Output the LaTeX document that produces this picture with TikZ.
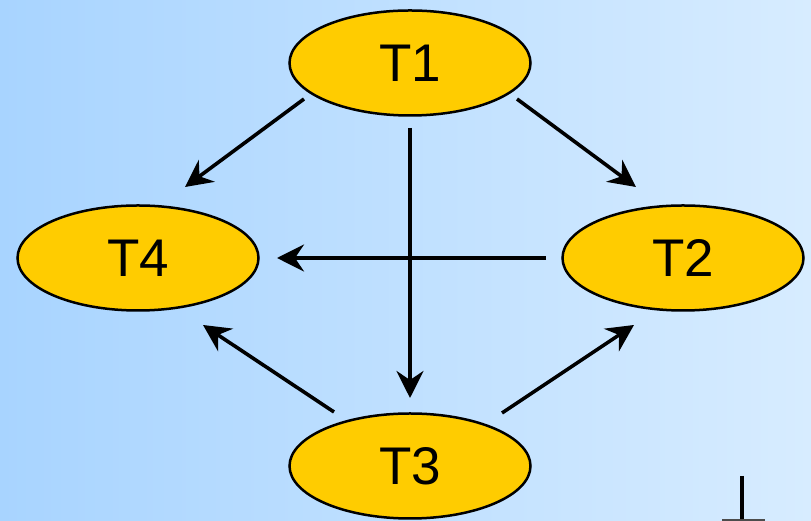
\documentclass[tikz,border=0pt]{standalone}
\usepackage{fontspec}
\setmainfont{Liberation Sans}
\usetikzlibrary{shapes.geometric,arrows.meta}
\definecolor{bgleft}{RGB}{168,212,255}
\definecolor{bgright}{RGB}{215,236,255}
\definecolor{taskfill}{RGB}{255,204,0}
\tikzset{
  task/.style={ellipse, draw=black, line width=2.5pt, fill=taskfill,
    minimum width=241pt, minimum height=105pt, inner sep=0pt,
    font=\fontsize{53pt}{60pt}\selectfont},
  arr/.style={line width=3.6pt, -{Stealth[length=27pt,width=27pt,inset=9pt]}}
}
\begin{document}
\begin{tikzpicture}[x=1pt,y=1pt]
\useasboundingbox (0,0) rectangle (811,521);
\shade[left color=bgleft, right color=bgright] (0,0) rectangle (811,521);
\node[task] (T1) at (410,458) {T1};
\node[task] (T4) at (138,263) {T4};
\node[task] (T2) at (683,263) {T2};
\node[task] (T3) at (410,55) {T3};
\draw[arr] ([shift={(-106,-36)}]T1.center) -- ([shift={(47,71)}]T4.center);
\draw[arr] ([shift={(107,-36)}]T1.center) -- ([shift={(-47,71)}]T2.center);
\draw[arr] ([shift={(0,-65)}]T1.center) -- ([shift={(0,68)}]T3.center);
\draw[arr] ([shift={(-137,0)}]T2.center) -- ([shift={(139,0)}]T4.center);
\draw[arr] ([shift={(-76,54)}]T3.center) -- ([shift={(65,-67)}]T4.center);
\draw[arr] ([shift={(92,53)}]T3.center) -- ([shift={(-49,-67)}]T2.center);
\draw[line width=3.5pt] (742,45) -- (742,0);
\draw[line width=2pt, black!70] (722,0.5) -- (765,0.5);
\end{tikzpicture}
\end{document}
